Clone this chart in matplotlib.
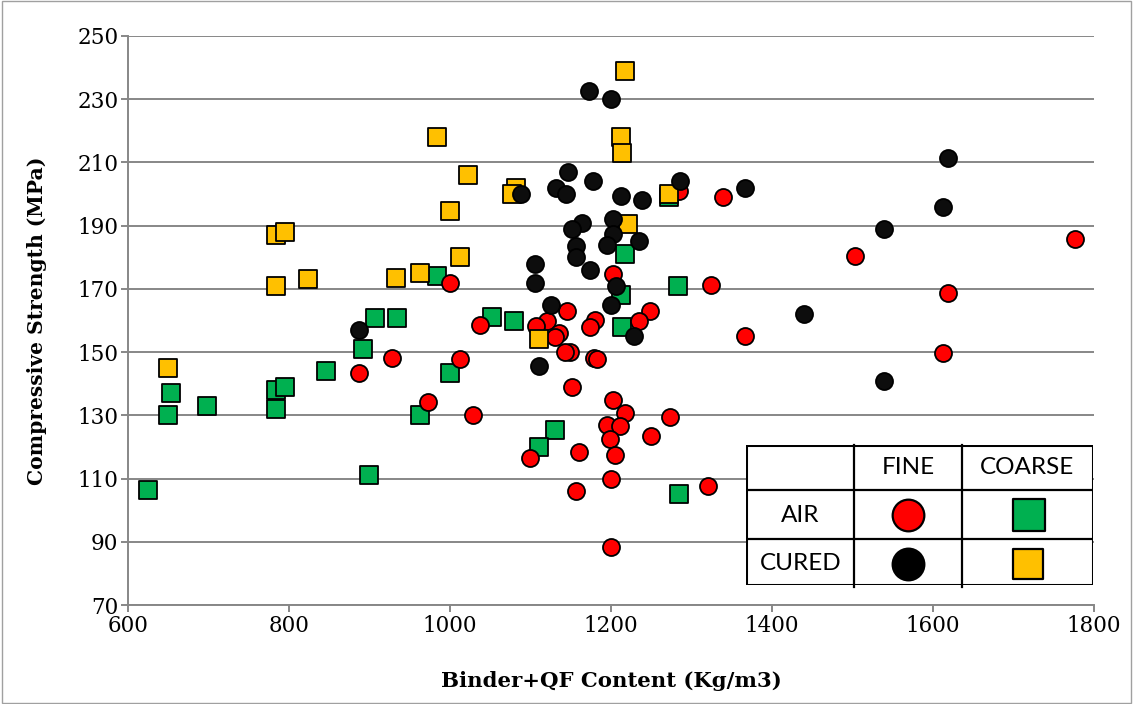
import numpy as np
import matplotlib.pyplot as plt
from matplotlib.patches import Rectangle

# binder+QF content (kg/m3) and compressive strength (MPa) per group
air_coarse_x = [625, 653, 650, 698, 784, 795, 784, 846, 892, 907, 934, 899, 963, 1000,
                1052, 984, 1079, 1130, 1110, 1284, 1212, 1214, 1283, 1217, 1272]
air_coarse_y = [106.5, 137, 130, 133, 138, 139, 132, 144, 151, 160.7, 160.7, 111, 130, 143.5,
                161, 174, 160, 125.5, 120, 105, 168, 158, 171, 181, 199]

air_fine_x = [1000, 1037, 928, 887, 973, 1013, 1028, 1619, 1613, 1366, 1324, 1248, 1503, 1776,
              1339, 1285, 1202, 1235, 1145, 1120, 1107, 1180, 1174, 1136, 1131, 1149, 1143,
              1179, 1183, 1152, 1202, 1217, 1273, 1195, 1211, 1199, 1250, 1160, 1205, 1099,
              1200, 1157, 1321, 1200]
air_fine_y = [172, 158.5, 148, 143.5, 134.3, 147.7, 130, 168.6, 149.8, 155, 171.2, 163, 180.4, 185.7,
              199, 201, 174.6, 160, 163, 160, 158.3, 160.3, 158, 156, 154.8, 149.9, 150,
              148.2, 147.8, 139, 135, 130.6, 129.5, 127, 126.6, 122.4, 123.5, 118.5, 117.4, 116.6,
              110, 106.2, 107.7, 88.3]

cured_coarse_x = [650, 784, 795, 784, 823, 933, 963, 984, 1022, 1000, 1012, 1218, 1212, 1214,
                  1082, 1077, 1221, 1272, 1110]
cured_coarse_y = [145, 187, 188, 171, 173, 173.5, 175, 218, 206, 194.5, 180, 239, 218, 213,
                  202, 200, 190.5, 200, 154]

cured_fine_x = [1173, 1200, 1146, 1178, 1132, 1144, 1088, 1212, 1238, 1286, 1366, 1164, 1152,
                1202, 1202, 1195, 1235, 1157, 1157, 1174, 1105, 1105, 1206, 1200, 1125, 1229,
                1111, 1440, 887, 1619, 1613, 1539, 1539]
cured_fine_y = [232.6, 230, 207, 204, 202, 200, 200, 199.5, 198, 204, 202, 191, 189,
                192, 187.5, 184, 185, 183.6, 180, 176, 178, 172, 171, 164.8, 164.8, 155,
                145.7, 162, 157, 211.3, 196, 189, 141]

x_ticks = np.arange(600, 1801, 200)
y_ticks = np.arange(70, 251, 20)

RED = '#FF0000'
GREEN = '#00B050'
YELLOW = '#FFC000'
BLACK = '#0D0D0D'
GRID = '#878787'

fig = plt.figure(figsize=(11.34, 7.04), dpi=100)
ax = fig.add_axes([128/1134, 1-605/704, (1094-128)/1134, (605-36)/704])

ms = 150
ax.scatter(air_coarse_x, air_coarse_y, s=ms, marker='s', c=GREEN, edgecolors='black', linewidths=1.3, zorder=3)
ax.scatter(air_fine_x, air_fine_y, s=ms, marker='o', c=RED, edgecolors='black', linewidths=1.3, zorder=4)
ax.scatter(cured_coarse_x, cured_coarse_y, s=ms, marker='s', c=YELLOW, edgecolors='black', linewidths=1.3, zorder=5)
ax.scatter(cured_fine_x, cured_fine_y, s=ms, marker='o', c=BLACK, edgecolors='black', linewidths=1.3, zorder=6)

ax.set_xlim(600, 1800)
ax.set_ylim(70, 250)
ax.set_xticks(x_ticks)
ax.set_yticks(y_ticks)
ax.yaxis.grid(True, color=GRID, lw=1.4)
ax.set_axisbelow(True)
for s in ['top', 'right']:
    ax.spines[s].set_visible(False)
for s in ['left', 'bottom']:
    ax.spines[s].set_color(GRID)
    ax.spines[s].set_linewidth(1.4)
ax.tick_params(axis='both', direction='out', length=5, width=1.4, color=GRID,
               labelsize=15.5, pad=2)
for lab in ax.get_xticklabels() + ax.get_yticklabels():
    lab.set_family('DejaVu Serif')

ax.set_xlabel('Binder+QF Content (Kg/m3)', family='DejaVu Serif', fontweight='bold',
              fontsize=15.3, labelpad=25)
ax.set_ylabel('Compressive Strength (MPa)', family='DejaVu Serif', fontweight='bold',
              fontsize=14.6, labelpad=22)

# legend table in the lower right
lg = fig.add_axes([746/1134, 1-585/704, (1093-746)/1134, (585-445)/704])
lg.set_xlim(0, 347)
lg.set_ylim(140, 0)
lg.axis('off')
lg.add_patch(Rectangle((0, 0), 347, 140, fill=True, fc='white', ec='black', lw=2.2, zorder=1))
for xc in [108, 216]:
    lg.plot([xc, xc], [0, 142], color='black', lw=1.6, clip_on=False, zorder=2)
for yr in [45, 94]:
    lg.plot([0, 347], [yr, yr], color='black', lw=1.6, zorder=2)
tfont = dict(family='Lato', fontsize=17.5, ha='center', va='center', zorder=3)
lg.text(162, 23, 'FINE', **tfont)
lg.text(281, 23, 'COARSE', **tfont)
lg.text(54, 70, 'AIR', **tfont)
lg.text(55, 118, 'CURED', **tfont)
lg.scatter([162], [70], s=520, marker='o', c=RED, edgecolors='black', linewidths=1.6, zorder=3)
lg.scatter([283], [70], s=520, marker='s', c=GREEN, edgecolors='black', linewidths=1.6, zorder=3)
lg.scatter([162], [119], s=520, marker='o', c='black', edgecolors='black', linewidths=1.6, zorder=3)
lg.scatter([282], [119], s=480, marker='s', c=YELLOW, edgecolors='black', linewidths=1.6, zorder=3)

# chart border
fig.patches.append(Rectangle((0.002, 0.002), 0.995, 0.996, transform=fig.transFigure,
                             fill=False, ec='#A0A0A0', lw=1.0))

fig.savefig('out.png', dpi=100)
